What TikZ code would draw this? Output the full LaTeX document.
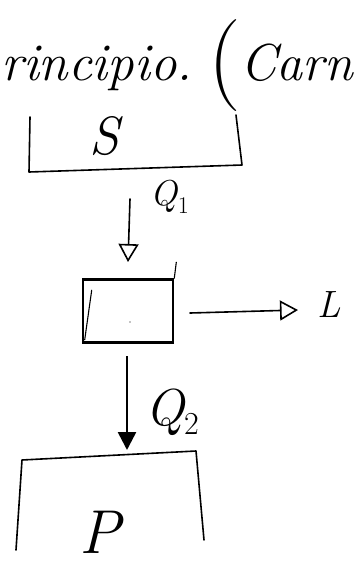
\documentclass[tikz,border=0pt]{standalone}
\usetikzlibrary{arrows.meta}
\newcommand{\sz}[1]{\fontsize{#1}{#1}\selectfont}
\begin{document}
\begin{tikzpicture}[x=1pt,y=-1pt,
  ink/.style={line width=1.6pt,line cap=round,line join=round},
  thin ink/.style={line width=1.1pt,line cap=round,line join=round},
  flow/.style={ink,-{Triangle[open,length=18pt,width=20pt,line width=1.6pt]}},
  heavy flow/.style={line width=2.6pt,-{Triangle[length=18pt,width=18pt]}},
  hand/.style={font=\sz{53}\itshape,inner sep=0pt,anchor=base west},
  sym/.style={inner sep=0pt}]
\useasboundingbox (0,0) rectangle (358,574);

% heading line
\node[hand] (title) at (1,80) {rincipio.};
\node[font=\sz{92},inner sep=0pt,anchor=base] (paren) at (225,88) {(};
\node[hand,font=\sz{52}\itshape] (tail) at (240,80) {Carn};

% source S: box open on top
\coordinate (s1) at (30,117);
\coordinate (s2) at (29,172);
\coordinate (s3) at (242,165);
\coordinate (s4) at (236,115);
\draw[ink] (s1) -- (s2) -- (s3) -- (s4);
\node[sym,font=\sz{54}\itshape] (S) at (104,136) {S};

% engine
\node[draw,line width=2.6pt,minimum width=90pt,minimum height=63pt,inner sep=0pt] (eng) at (128,311) {};
\draw[thin ink] (eng.north east) -- ++(2,-16) coordinate (tick);
\draw[thin ink] ([xshift=10pt,yshift=-12pt]eng.north west) -- ([xshift=3pt,yshift=4pt]eng.south west);
\node[inner sep=0.5pt,fill=black,circle] (dot) at (130,322) {};

% heat taken in
\coordinate (q1a) at (130,199);
\coordinate (q1b) at (128,262);
\draw[flow] (q1a) -- (q1b);
\node[sym,font=\sz{36}\itshape] (Q1) at (170,197) {Q\raisebox{-8pt}{\sz{24}\upshape 1}};

% work out
\coordinate (la) at (190,313);
\coordinate (lb) at (298,310);
\draw[flow] (la) -- (lb);
\node[sym,font=\sz{38}\itshape] (L) at (329,305) {L};

% heat given off
\coordinate (q2a) at (127,356);
\coordinate (q2b) at (127,450);
\draw[heavy flow] (q2a) -- (q2b);
\node[sym,font=\sz{52}\itshape] (Q2) at (172,412) {Q\raisebox{-9pt}{\sz{32}\upshape 2}};

% sink P: box open below
\coordinate (p1) at (16,550);
\coordinate (p2) at (22,460);
\coordinate (p3) at (196,451);
\coordinate (p4) at (204,540);
\draw[ink] (p1) -- (p2) -- (p3) -- (p4);
\node[sym,font=\sz{62}\itshape] (P) at (100,532) {P};
\end{tikzpicture}
\end{document}
